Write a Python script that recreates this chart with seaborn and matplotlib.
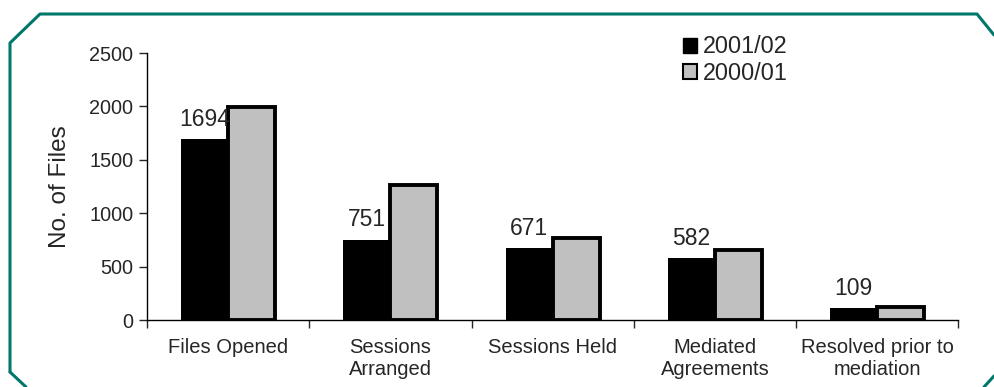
import matplotlib
matplotlib.use('Agg')
import matplotlib.pyplot as plt
import matplotlib.lines as mlines
import matplotlib.ticker as ticker
from matplotlib.patches import Patch
import pandas as pd
import seaborn as sns

categories = ['Files Opened', 'Sessions\nArranged', 'Sessions Held',
              'Mediated\nAgreements', 'Resolved prior to\nmediation']
years = ['2001/02', '2000/01']
files_2001_02 = [1694, 751, 671, 582, 109]
files_2000_01 = [1990, 1262, 765, 660, 120]

sns.set_style('white')
plt.rcParams['font.family'] = ['Liberation Sans', 'DejaVu Sans']

df = pd.DataFrame({
    'category': categories * 2,
    'year': [years[0]] * len(categories) + [years[1]] * len(categories),
    'files': files_2001_02 + files_2000_01,
})

fig = plt.figure(figsize=(9.94, 3.87), dpi=100)
ax = fig.add_axes([0.148, 0.173, 0.816, 0.690])

sns.barplot(data=df, x='category', y='files', hue='year', hue_order=years,
            palette=['#000000', '#c0c0c0'], width=0.58, saturation=1,
            ax=ax, legend=False)

for bar in ax.containers[1]:
    bar.set_edgecolor('black')
    bar.set_linewidth(2.8)
for bar in ax.containers[0]:
    bar.set_edgecolor('none')

ax.bar_label(ax.containers[0], labels=[str(v) for v in files_2001_02],
             padding=6, fontsize=16.5)

ax.set_ylim(0, 2500)
ax.set_xlim(-0.5, len(categories) - 0.5)
ax.yaxis.set_major_locator(ticker.MultipleLocator(500))
ax.set_ylabel('No. of Files', fontsize=17.5, labelpad=13)
ax.set_xlabel('')

ax.tick_params(axis='y', labelsize=14.3, length=6, width=1, direction='out', left=True, pad=4)
ax.tick_params(axis='x', which='major', labelsize=14.5, length=0, pad=13)
ax.set_xticks([i - 0.5 for i in range(len(categories) + 1)], minor=True)
ax.tick_params(axis='x', which='minor', length=6, width=1, direction='out', bottom=True)

for side in ['top', 'right']:
    ax.spines[side].set_visible(False)
for side in ['left', 'bottom']:
    ax.spines[side].set_color('black')
    ax.spines[side].set_linewidth(1)

handles = [Patch(facecolor='black', edgecolor='black', label=years[0]),
           Patch(facecolor='#c0c0c0', edgecolor='black', linewidth=1.5, label=years[1])]
fig.legend(handles=handles, loc='upper left', bbox_to_anchor=(0.666, 0.963),
           frameon=False, fontsize=16.8, handlelength=0.6, handleheight=0.6,
           handletextpad=0.25, labelspacing=0.15)

# teal frame with clipped corners
teal = '#00776b'
xs = [10, 10, 40, 977, 994]
ys = [387 - 372, 387 - 43, 387 - 14, 387 - 14, 387 - 35]
fig.add_artist(mlines.Line2D([x / 994 for x in xs], [y / 387 for y in ys],
                             color=teal, lw=2.2, transform=fig.transFigure))
fig.add_artist(mlines.Line2D([10 / 994, 26 / 994], [(387 - 372) / 387, 0],
                             color=teal, lw=2.2, transform=fig.transFigure))
fig.add_artist(mlines.Line2D([984 / 994, 994 / 994], [0, (387 - 376) / 387],
                             color=teal, lw=2.2, transform=fig.transFigure))

fig.savefig('out.png', dpi=100)
